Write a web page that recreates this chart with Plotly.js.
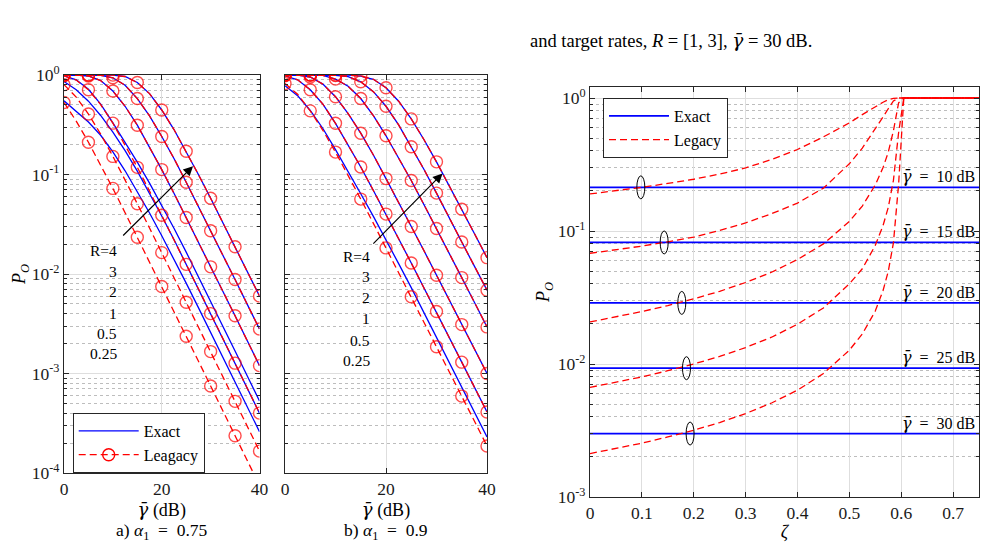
<!DOCTYPE html>
<html>
<head>
<meta charset="utf-8">
<script src="https://cdn.plot.ly/plotly-3.0.1.min.js"></script>
<style>
  html, body { margin: 0; padding: 0; background: #ffffff; }
  #chart { width: 986px; height: 542px; }
</style>
</head>
<body>
<div id="chart"></div>
<script>
// ---- Outage probability vs average SNR (panels a and b) ----
const snrDb = [0, 2.5, 5, 7.5, 10, 12.5, 15, 17.5, 20, 22.5, 25, 27.5, 30, 32.5, 35, 37.5, 40];
const rateLabels = ['R=4', '3', '2', '1', '0.5', '0.25'];

// a) alpha1 = 0.75, rows ordered R = 4, 3, 2, 1, 0.5, 0.25
const legacyA = [
  [1, 1, 1, 1, 0.9975, 0.966, 0.84, 0.65, 0.445, 0.283, 0.171, 0.1, 0.0578, 0.033, 0.0188, 0.0106, 0.006],
  [1, 1, 1, 0.993, 0.937, 0.79, 0.58, 0.388, 0.241, 0.145, 0.0835, 0.048, 0.0272, 0.0155, 0.0088, 0.00495, 0.0028],
  [1, 0.9988, 0.977, 0.88, 0.69, 0.485, 0.313, 0.19, 0.112, 0.0648, 0.037, 0.021, 0.0118, 0.0067, 0.0038, 0.00213, 0.0012],
  [0.98, 0.89, 0.71, 0.505, 0.328, 0.2, 0.118, 0.068, 0.039, 0.022, 0.0125, 0.0071, 0.004, 0.00225, 0.00127, 0.000712, 0.0004],
  [0.8, 0.6, 0.405, 0.255, 0.152, 0.089, 0.0508, 0.029, 0.0164, 0.0093, 0.0052, 0.00295, 0.00166, 0.000934, 0.000525, 0.000295, 0.000166],
  [0.53, 0.344, 0.211, 0.125, 0.0725, 0.0413, 0.0234, 0.0133, 0.0075, 0.00422, 0.00237, 0.00133, 0.00075, 0.000422, 0.000237, 0.000133, 0.000075]
];
const exactA = [
  [1, 1, 1, 1, 0.9975, 0.966, 0.84, 0.65, 0.445, 0.283, 0.171, 0.1, 0.0578, 0.033, 0.0188, 0.0106, 0.006],
  [1, 1, 1, 0.993, 0.937, 0.79, 0.58, 0.388, 0.241, 0.145, 0.0835, 0.048, 0.0272, 0.0155, 0.0088, 0.00495, 0.0028],
  [1, 0.9988, 0.977, 0.88, 0.69, 0.485, 0.313, 0.19, 0.112, 0.0648, 0.037, 0.021, 0.0118, 0.0067, 0.0038, 0.00213, 0.0012],
  [0.982, 0.895, 0.718, 0.509, 0.33, 0.21, 0.133, 0.0818, 0.0488, 0.0288, 0.0166, 0.00943, 0.0053, 0.00298, 0.00168, 0.000943, 0.00053],
  [0.86, 0.71, 0.546, 0.392, 0.267, 0.174, 0.108, 0.0654, 0.0383, 0.0222, 0.01257, 0.00711, 0.004, 0.00225, 0.00126, 0.000711, 0.0004],
  [0.55, 0.43, 0.337, 0.248, 0.169, 0.109, 0.0672, 0.041, 0.0242, 0.0142, 0.0081, 0.00459, 0.0026, 0.00146, 0.00082, 0.000462, 0.00026]
];

// b) alpha1 = 0.9
const legacyB = [
  [1, 1, 1, 1, 1, 0.9995, 0.975, 0.905, 0.745, 0.545, 0.362, 0.225, 0.134, 0.078, 0.0447, 0.0255, 0.0146],
  [1, 1, 1, 0.9995, 0.99, 0.965, 0.855, 0.68, 0.485, 0.315, 0.19, 0.113, 0.065, 0.0375, 0.021, 0.012, 0.00687],
  [1, 1, 0.9995, 0.99, 0.91, 0.77, 0.58, 0.39, 0.245, 0.148, 0.087, 0.05, 0.0287, 0.0163, 0.0092, 0.0052, 0.00294],
  [1, 0.995, 0.955, 0.81, 0.605, 0.41, 0.26, 0.157, 0.091, 0.053, 0.03, 0.0172, 0.0097, 0.0055, 0.0031, 0.00176, 0.001],
  [0.98, 0.895, 0.71, 0.51, 0.327, 0.2, 0.119, 0.069, 0.04, 0.0226, 0.0129, 0.0073, 0.0042, 0.00233, 0.0013, 0.00073, 0.00041],
  [0.82, 0.64, 0.436, 0.278, 0.168, 0.0985, 0.0566, 0.0323, 0.0183, 0.0104, 0.0059, 0.0033, 0.00186, 0.00105, 0.000593, 0.000333, 0.000187]
];
const exactB = [
  [1, 1, 1, 1, 1, 0.9995, 0.975, 0.905, 0.745, 0.545, 0.362, 0.225, 0.134, 0.078, 0.0447, 0.0255, 0.0146],
  [1, 1, 1, 0.9995, 0.99, 0.965, 0.855, 0.68, 0.485, 0.315, 0.19, 0.113, 0.065, 0.0375, 0.021, 0.012, 0.00687],
  [1, 1, 0.9995, 0.99, 0.91, 0.77, 0.58, 0.39, 0.245, 0.148, 0.087, 0.05, 0.0287, 0.0163, 0.0092, 0.0052, 0.00294],
  [1, 0.995, 0.955, 0.81, 0.605, 0.41, 0.26, 0.157, 0.091, 0.053, 0.03, 0.0172, 0.0097, 0.0055, 0.0031, 0.00176, 0.001],
  [0.98, 0.895, 0.71, 0.51, 0.327, 0.2, 0.119, 0.069, 0.04, 0.0226, 0.0129, 0.0073, 0.0042, 0.00233, 0.0013, 0.00073, 0.00041],
  [0.78, 0.62, 0.44, 0.29, 0.178, 0.108, 0.064, 0.038, 0.0222, 0.0127, 0.0073, 0.0041, 0.00231, 0.0013, 0.00073, 0.00041, 0.00023]
];

// ---- Outage probability vs zeta (right panel) ----
const zeta = [0, 0.05, 0.1, 0.15, 0.2, 0.25, 0.3, 0.35, 0.4, 0.45, 0.5, 0.525, 0.55, 0.565, 0.575, 0.585, 0.595, 0.605, 0.75];
const avgSnrDb = [10, 15, 20, 25, 30];
const exactC = [0.213, 0.082, 0.0288, 0.0093, 0.003];
const legacyC = [
  [0.19, 0.2, 0.213, 0.228, 0.245, 0.268, 0.298, 0.345, 0.41, 0.51, 0.65, 0.75, 0.865, 0.93, 0.97, 0.995, 1, 1, 1],
  [0.068, 0.072, 0.077, 0.083, 0.09, 0.101, 0.115, 0.135, 0.162, 0.21, 0.32, 0.42, 0.58, 0.72, 0.83, 0.95, 1, 1, 1],
  [0.0207, 0.0226, 0.0248, 0.0275, 0.0309, 0.0352, 0.041, 0.049, 0.061, 0.08, 0.118, 0.154, 0.222, 0.3, 0.39, 0.567, 0.92, 1, 1],
  [0.00667, 0.0073, 0.008, 0.0089, 0.01, 0.0114, 0.0133, 0.0159, 0.0199, 0.0264, 0.04, 0.052, 0.078, 0.11, 0.15, 0.24, 0.55, 1, 1],
  [0.00212, 0.00231, 0.00254, 0.00283, 0.00318, 0.00363, 0.00424, 0.00509, 0.00636, 0.00848, 0.0127, 0.0168, 0.025, 0.0357, 0.0496, 0.0813, 0.225, 1, 1]
];
// zeta where each legacy curve meets its exact level (ringed)
const crossZeta = [0.098, 0.143, 0.177, 0.186, 0.193];

// ---- styling ----
const SERIF = 'Liberation Serif, Times New Roman, serif';
const BLUE = '#0000ff';
const RED = '#ff0000';
const AXIS = '#262626';
const DASH = '7px,4px';
// gamma with a bar, set in a font that positions the combining macron
const GBAR = '<span style="font-family:\'DejaVu Serif\'"><i>γ̄</i></span>';
// vertical half-extent of the rings, as a factor on the log axis
const RING_FACTOR = 1.22;

// markers only every 5 dB on the legacy curves
const markerSizes = snrDb.map(g => (g % 5 === 0 ? 12 : 0));

function snrPanel(legacy, exact, xa, ya) {
  const traces = [];
  exact.forEach(ys => traces.push({
    type: 'scatter', mode: 'lines', x: snrDb, y: ys, xaxis: xa, yaxis: ya,
    line: { color: BLUE, width: 1.3 }, showlegend: false, hoverinfo: 'skip'
  }));
  legacy.forEach(ys => traces.push({
    type: 'scatter', mode: 'lines+markers', x: snrDb, y: ys, xaxis: xa, yaxis: ya,
    line: { color: RED, width: 1.3, dash: DASH },
    marker: { symbol: 'circle-open', size: markerSizes, color: RED, line: { color: RED, width: 1.4 } },
    showlegend: false, hoverinfo: 'skip'
  }));
  return traces;
}

const traces = [
  ...snrPanel(legacyA, exactA, 'x', 'y'),
  ...snrPanel(legacyB, exactB, 'x2', 'y2'),
  // legend keys for the left panel
  { type: 'scatter', mode: 'lines', x: [null], y: [null], xaxis: 'x', yaxis: 'y',
    line: { color: BLUE, width: 1.3 }, name: 'Exact', legend: 'legend' },
  { type: 'scatter', mode: 'lines+markers', x: [null], y: [null], xaxis: 'x', yaxis: 'y',
    line: { color: RED, width: 1.3, dash: DASH },
    marker: { symbol: 'circle-open', size: 12, color: RED, line: { color: RED, width: 1.4 } },
    name: 'Leagacy', legend: 'legend' }
];

exactC.forEach((v, i) => traces.push({
  type: 'scatter', mode: 'lines', x: [zeta[0], zeta[zeta.length - 1]], y: [v, v],
  xaxis: 'x3', yaxis: 'y3', line: { color: BLUE, width: 1.8 },
  name: 'Exact', legend: 'legend2', showlegend: i === 0, hoverinfo: 'skip'
}));
legacyC.forEach((ys, i) => traces.push({
  type: 'scatter', mode: 'lines', x: zeta, y: ys,
  xaxis: 'x3', yaxis: 'y3', line: { color: RED, width: 1.3, dash: DASH },
  name: 'Legacy', legend: 'legend2', showlegend: i === 0, hoverinfo: 'skip'
}));

// ---- axes ----
function decadeTicks(lo, hi) {
  const vals = [], text = [], minor = [];
  for (let e = lo; e <= hi; e++) {
    vals.push(Math.pow(10, e));
    text.push('10<sup>' + (e < 0 ? '-' : '') + Math.abs(e) + '</sup>');
    if (e < hi) for (let k = 2; k <= 9; k++) minor.push(k * Math.pow(10, e));
  }
  return { vals, text, minor };
}

const tickFont = { family: SERIF, size: 17.5, color: '#1a1a1a' };
const titleFont = { family: SERIF, size: 18, color: '#000' };

function logAxis(domain, range, lo, hi, showLabels, anchor) {
  const t = decadeTicks(lo, hi);
  return {
    type: 'log', domain, range, anchor,
    tickmode: 'array', tickvals: t.vals, ticktext: t.text, showticklabels: showLabels,
    ticks: 'inside', ticklen: 5, tickcolor: AXIS, tickfont: tickFont,
    showgrid: true, gridcolor: '#dedede', gridwidth: 1,
    showline: true, linecolor: AXIS, linewidth: 1, mirror: 'ticks', zeroline: false,
    minor: {
      tickmode: 'array', tickvals: t.minor, ticks: 'inside', ticklen: 3, tickcolor: AXIS,
      showgrid: true, gridcolor: '#bdbdbd', gridwidth: 1, griddash: 'dot'
    }
  };
}

function linAxis(domain, range, tickvals, anchor, title, standoff) {
  return {
    domain, range, anchor, tickmode: 'array', tickvals,
    ticks: 'inside', ticklen: 5, tickcolor: AXIS, tickfont: tickFont,
    showgrid: true, gridcolor: '#dedede', gridwidth: 1,
    showline: true, linecolor: AXIS, linewidth: 1, mirror: 'ticks', zeroline: false,
    title: { text: title, font: titleFont, standoff }
  };
}

const W = 986, H = 542;
const px = (a, b) => [a / W, b / W];
const py = (top, bottom) => [(H - bottom) / H, (H - top) / H];

const gammaTitle = GBAR + ' (dB)';
const poTitle = '<i>P<sub>O</sub></i>';

const legendBase = {
  xanchor: 'left', yanchor: 'top',
  bgcolor: '#ffffff', bordercolor: AXIS, borderwidth: 1,
  font: { family: SERIF, size: 16, color: '#000' }, itemwidth: 60,
  tracegroupgap: 0
};

const layout = {
  width: W, height: H,
  margin: { l: 0, r: 0, t: 0, b: 0 },
  paper_bgcolor: '#ffffff', plot_bgcolor: '#ffffff',
  font: { family: SERIF, size: 16, color: '#000' },
  showlegend: true,
  xaxis: linAxis(px(64, 259.5), [0, 40], [0, 20, 40], 'y', gammaTitle, 1),
  yaxis: Object.assign(logAxis(py(75, 473), [-4, 0], -4, 0, true, 'x'), {
    title: { text: poTitle, font: titleFont, standoff: 0 }
  }),
  xaxis2: linAxis(px(285, 487), [0, 40], [0, 20, 40], 'y2', gammaTitle, 1),
  yaxis2: logAxis(py(75, 473), [-4, 0], -4, 0, false, 'x2'),
  xaxis3: linAxis(px(590, 979), [0, 0.75], [0, 0.1, 0.2, 0.3, 0.4, 0.5, 0.6, 0.7], 'y3', '<i>ζ</i>', 16),
  yaxis3: Object.assign(logAxis(py(87, 497), [-3, Math.log10(1.21)], -3, 0, true, 'x3'), {
    title: { text: poTitle, font: titleFont, standoff: 3 }
  }),
  legend: Object.assign({ x: 72.7 / W, y: (H - 413) / H }, legendBase),
  legend2: Object.assign({ x: 603 / W, y: (H - 98) / H }, legendBase),
  annotations: [],
  shapes: []
};

// rate labels and arrows
const rateLabelLogA = [-1.76, -1.97, -2.175, -2.397, -2.598, -2.80];
const rateLabelLogB = [-1.82, -2.03, -2.233, -2.445, -2.666, -2.874];
rateLabels.forEach((t, i) => {
  layout.annotations.push({ xref: 'x', yref: 'y', x: 11.3, y: rateLabelLogA[i], xanchor: 'right', yanchor: 'middle',
    text: t, showarrow: false, font: { family: SERIF, size: 15.5, color: '#000' } });
  layout.annotations.push({ xref: 'x2', yref: 'y2', x: 17.3, y: rateLabelLogB[i], xanchor: 'right', yanchor: 'middle',
    text: t, showarrow: false, font: { family: SERIF, size: 15.5, color: '#000' } });
});
layout.annotations.push({ xref: 'x', yref: 'y', x: 26.4, y: -0.916, axref: 'x', ayref: 'y', ax: 11.8, ay: -1.628,
  text: '', showarrow: true, arrowhead: 2, arrowsize: 1.6, arrowwidth: 1.2, arrowcolor: '#000' });
layout.annotations.push({ xref: 'x2', yref: 'y2', x: 31.2, y: -0.989, axref: 'x2', ayref: 'y2', ax: 17.2, ay: -1.71,
  text: '', showarrow: true, arrowhead: 2, arrowsize: 1.6, arrowwidth: 1.2, arrowcolor: '#000' });

// panel captions
layout.annotations.push({ xref: 'paper', yref: 'paper', x: 162 / W, y: (H - 531) / H, xanchor: 'center', yanchor: 'middle',
  text: 'a) <i>α</i><sub>1</sub>  =  0.75', showarrow: false, font: { family: SERIF, size: 17.5, color: '#000' } });
layout.annotations.push({ xref: 'paper', yref: 'paper', x: 386 / W, y: (H - 531) / H, xanchor: 'center', yanchor: 'middle',
  text: 'b) <i>α</i><sub>1</sub>  =  0.9', showarrow: false, font: { family: SERIF, size: 17.5, color: '#000' } });

// caption fragment above the right panel
layout.annotations.push({ xref: 'paper', yref: 'paper', x: 528 / W, y: (H - 40) / H, xanchor: 'left', yanchor: 'middle',
  text: 'and target rates, <i>R</i> = [1, 3], ' + GBAR + ' = 30 dB.', showarrow: false,
  font: { family: SERIF, size: 18.5, color: '#000' } });

// average-SNR labels and rings on the right panel
avgSnrDb.forEach((g, i) => {
  layout.annotations.push({ xref: 'x3', yref: 'y3', x: 0.746, y: Math.log10(exactC[i]), xanchor: 'right', yanchor: 'bottom',
    yshift: -1, text: GBAR + '  =  ' + g + ' dB', showarrow: false, font: { family: SERIF, size: 16, color: '#000' } });
  layout.shapes.push({ type: 'circle', xref: 'x3', yref: 'y3', xsizemode: 'pixel', xanchor: crossZeta[i],
    x0: -4, x1: 4, y0: exactC[i] / RING_FACTOR, y1: exactC[i] * RING_FACTOR,
    line: { color: '#000', width: 1 } });
});

Plotly.newPlot('chart', traces, layout, { staticPlot: true, displayModeBar: false });
</script>
</body>
</html>
